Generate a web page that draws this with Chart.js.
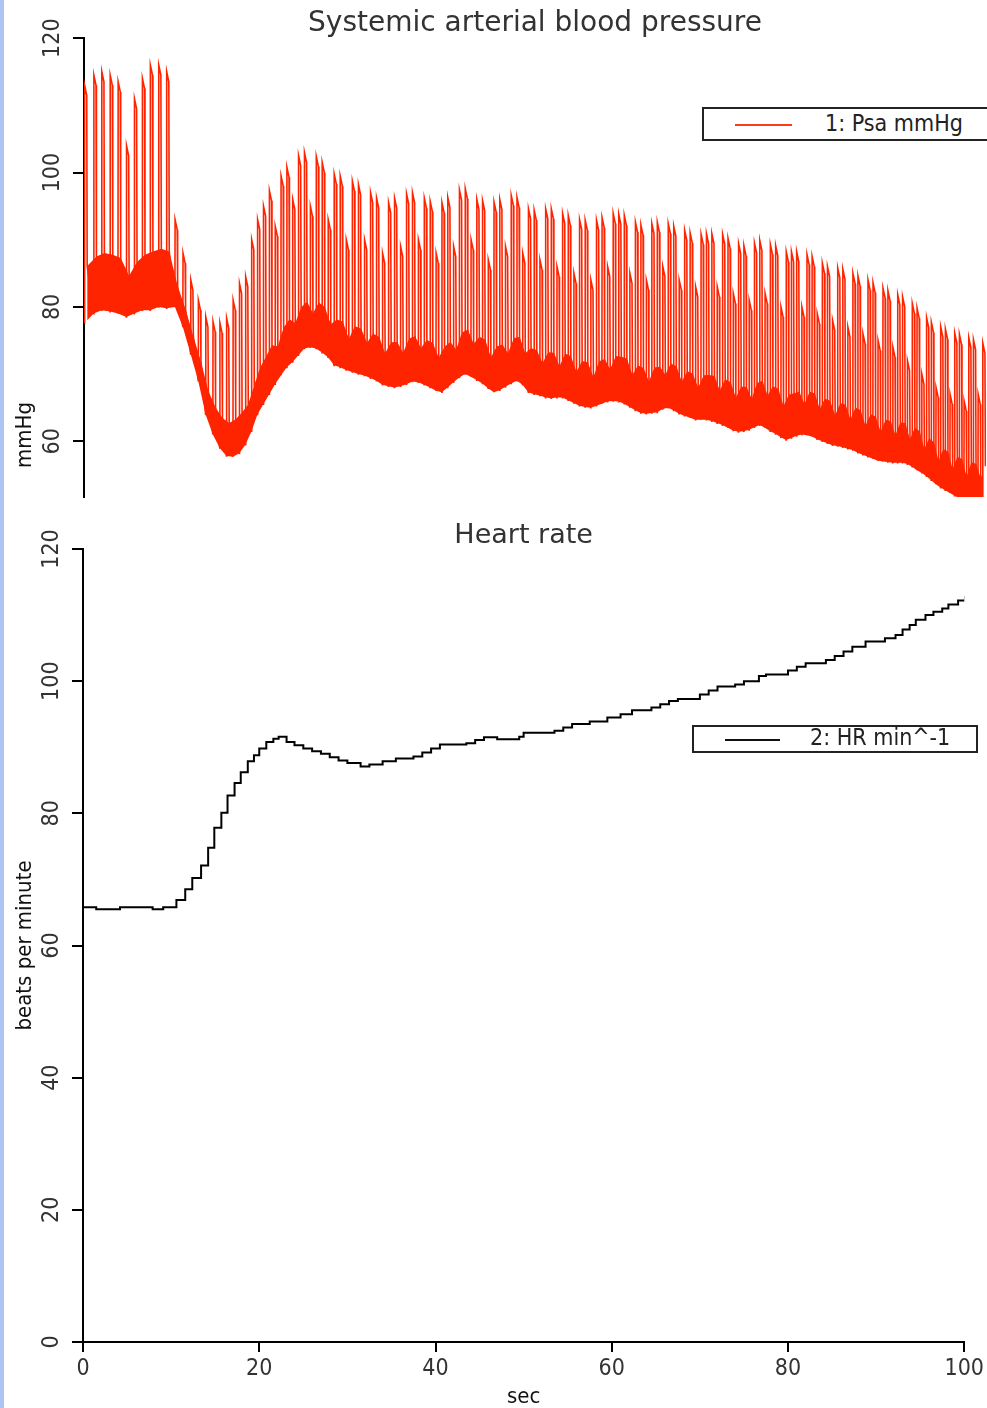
<!DOCTYPE html>
<html><head><meta charset="utf-8">
<script src="https://cdn.jsdelivr.net/npm/chart.js@4.4.1/dist/chart.umd.min.js"></script>
<style>
html,body{margin:0;padding:0;background:#fff;}
body{width:987px;height:1408px;position:relative;overflow:hidden;}
#strip{position:absolute;left:0;top:0;width:4px;height:1408px;background:#b0c4f4;z-index:5;}
#c1wrap{position:absolute;left:0;top:0;width:987px;height:498px;}
#c2wrap{position:absolute;left:0;top:500px;width:987px;height:908px;}
.legend{position:absolute;border:2px solid #222;background:#fff;box-sizing:border-box;font-family:'DejaVu Sans Condensed','DejaVu Sans',sans-serif;font-size:23px;color:#222;white-space:nowrap;}
.legend .sw{position:absolute;height:2px;}
.legend .tx{position:absolute;line-height:normal;}
</style></head>
<body>
<div id="strip"></div>
<div id="c1wrap"><canvas id="bp" width="987" height="498"></canvas></div>
<div id="c2wrap"><canvas id="hr" width="987" height="908"></canvas></div>
<div class="legend" id="lg1" style="left:702px;top:107px;width:300px;height:34px;"><span class="sw" style="left:31px;top:15px;width:57px;background:#ff3a1a"></span><span class="tx" style="left:121px;top:1px"></span></div>
<div class="legend" id="lg2" style="left:692px;top:725px;width:286px;height:28px;"><span class="sw" style="left:31px;top:12px;width:55px;background:#111"></span><span class="tx" style="left:116px;top:-3px"></span></div>
<script>
// ---------------- data ----------------
const bpTitle = 'Systemic arterial blood pressure';
const hrTitle = 'Heart rate';
const bpLabel = '1: Psa mmHg';
const hrLabel = '2: HR min^-1';
const bpAxisTitle = 'mmHg';
const hrAxisTitle = 'beats per minute';
const secAxisTitle = 'sec';
const bpTicks = [60, 80, 100, 120];
const hrTicks = [0, 20, 40, 60, 80, 100, 120];
const secTicks = [0, 20, 40, 60, 80, 100];

// beat onset times (s), systolic peaks and diastolic troughs (mmHg) per beat
const beatSec = [0.05, 1.1, 2.0, 2.95, 3.85, 4.8, 5.7, 6.6, 7.5, 8.45, 9.35, 10.3,
 11.2, 12.08, 12.94, 13.78, 14.6, 15.38,
 16.14, 16.88, 17.6, 18.3, 18.98, 19.65, 20.32,
 20.99, 21.65, 22.31, 22.97, 23.63, 24.29, 24.96, 25.63, 26.3, 26.97, 27.65, 28.33, 29.01, 29.7,
 30.39, 31.08, 31.77, 32.45, 33.13, 33.81, 34.49, 35.17, 35.85, 36.53, 37.2, 37.87, 38.54, 39.21, 39.88,
 40.54, 41.2, 41.86, 42.52, 43.18, 43.84, 44.49, 45.14, 45.79, 46.44, 47.09, 47.74, 48.39, 49.04, 49.69,
 50.34, 50.99, 51.64, 52.29, 52.93, 53.57, 54.21, 54.85, 55.49, 56.13, 56.77, 57.41, 58.05, 58.68, 59.31, 59.94,
 60.57, 61.2, 61.83, 62.46, 63.08, 63.7, 64.32, 64.94, 65.56, 66.18, 66.8, 67.42, 68.04, 68.66, 69.28, 69.9,
 70.51, 71.12, 71.73, 72.34, 72.95, 73.55, 74.15, 74.75, 75.35, 75.95, 76.55, 77.15, 77.75, 78.35, 78.95, 79.55,
 80.14, 80.73, 81.32, 81.9, 82.48, 83.06, 83.64, 84.22, 84.8, 85.38, 85.96, 86.53, 87.1, 87.67, 88.24, 88.81, 89.38, 89.95,
 90.51, 91.07, 91.63, 92.18, 92.73, 93.28, 93.83, 94.37, 94.91, 95.45, 95.99, 96.52, 97.05, 97.58, 98.11, 98.64, 99.17, 99.7,
 100.23, 100.76, 101.29, 101.82];
const systolic = [113, 114.5, 115, 114.5, 113.5, 104, 111, 114, 116, 116, 115, 93,
 88, 84, 81, 78.5, 77.8, 77.6,
 78.3, 81, 83.5, 84.5, 90, 93, 95,
 97.3, 92, 99.5, 100.8, 96, 102.5, 103, 95, 102.4, 101.5, 93, 99.8, 99.5, 90,
 98.7, 98.2, 90, 97, 96.2, 88, 95.5, 96.2, 89, 96.8, 97, 90, 96.2, 95.7, 88,
 95.5, 96.3, 89, 97.4, 97.6, 90, 96, 95.8, 87, 95.6, 96, 89, 96.6, 96.3, 88,
 94.6, 94.4, 87, 94.6, 94.6, 86, 93.9, 93.6, 85, 93, 92.9, 84, 92.9, 93.3, 86, 93.9,
 93.8, 93.6, 85, 92.6, 92.2, 84, 92.4, 92.6, 86, 92.4, 92, 84, 91.4, 91, 83, 90.8,
 90.9, 90.9, 83, 90.8, 90.2, 82, 89.4, 89.1, 81, 89.5, 89.9, 82, 89.3, 89.1, 80, 88.2,
 88.2, 88.2, 80, 87.8, 87.5, 79, 86.5, 86, 78, 85.8, 85.6, 77, 85, 84.6, 76, 84, 83.6, 75,
 82.8, 82.4, 74, 81.8, 81.5, 72, 80.5, 79.8, 70, 78.4, 77.7, 68, 77, 76.7, 67, 76.1, 75.9, 66,
 75.4, 75.1, 67, 74.6];
const diastolic = [77.6, 79, 79.5, 79.3, 79, 78.5, 79, 79.5, 79.5, 80, 79.8, 80,
 77, 73, 69, 64, 61, 59,
 57.8, 57.7, 58.2, 59.5, 61.5, 64, 65.5,
 67, 68.5, 69.8, 71, 71.8, 72.8, 73.8, 74, 73.8, 73.2, 72.5, 71.3, 71, 70.6,
 70.3, 70, 69.8, 69.4, 69, 68.4, 68.2, 68, 68.2, 68.5, 68.9, 68.8, 68.4, 68, 67.5,
 67.3, 68, 68.8, 69.5, 70, 69.6, 69.1, 68.6, 67.9, 67.3, 67.6, 68.1, 68.6, 69, 68.4,
 67.3, 67, 66.8, 66.5, 66.4, 66.5, 66.5, 66.1, 65.7, 65.3, 65.1, 65, 65.3, 65.6, 65.9, 66,
 65.9, 65.6, 65.1, 64.6, 64.2, 64.1, 64.2, 64.3, 64.8, 65, 64.6, 64.1, 63.8, 63.5, 63.2, 63.2,
 63.2, 63, 62.7, 62.4, 62, 61.6, 61.4, 61.5, 61.7, 62.1, 62.4, 62, 61.5, 61.1, 60.6, 60.2,
 60.5, 60.8, 61, 60.9, 60.7, 60.3, 60, 59.7, 59.4, 59.3, 59.1, 58.9, 58.7, 58.3, 58, 57.7, 57.4, 57.1,
 57, 56.9, 56.8, 56.8, 56.8, 56.6, 56.2, 55.7, 55.3, 54.8, 54.2, 53.6, 53.1, 52.7, 52.3, 51.9, 51.5, 51.2,
 51, 50.8, 50.6, 50.5];

// heart rate: step start times (s) and values (beats/min)
const hrSec = [0, 1.5, 4.2, 7.9, 9.1, 10.6, 11.6, 12.4, 13.4, 14.2, 14.9, 15.7, 16.4, 17.2, 17.9, 18.7, 19.4, 20.0, 20.8, 21.6,
 22.2, 23.1, 24.0, 25.0, 26.0, 27.0, 28.0, 29.0, 30.0, 31.5, 32.5, 34.0, 35.5, 37.5, 38.5, 39.5, 40.5, 43.5, 44.5, 45.5,
 47.0, 49.5, 50.0, 53.5, 54.5, 55.5, 57.5, 59.5, 61.0, 62.3, 64.5, 65.5, 66.5, 67.5, 70.0, 71.0, 72.0, 74.0, 75.0, 76.7,
 77.5, 80.0, 81.0, 82.0, 84.3, 85.3, 86.3, 87.3, 88.8, 91.0, 92.2, 93.0, 93.8, 94.5, 95.6, 96.5, 97.5, 98.2, 99.3, 100.1];
const hrBpm = [65.8, 65.5, 65.8, 65.5, 65.8, 66.9, 68.5, 70.2, 72.1, 74.8, 77.8, 80.1, 82.7, 84.6, 86.2, 87.9, 88.8, 89.8, 90.8, 91.3,
 91.6, 90.8, 90.3, 89.8, 89.4, 89.0, 88.5, 88.0, 87.6, 87.1, 87.4, 87.9, 88.3, 88.6, 89.2, 89.8, 90.4, 90.6, 91.1, 91.5,
 91.2, 91.6, 92.2, 92.5, 93.0, 93.5, 93.9, 94.5, 95.0, 95.6, 96.0, 96.5, 97.0, 97.3, 98.0, 98.6, 99.2, 99.5, 100.0, 100.8,
 101.0, 101.6, 102.2, 102.7, 103.2, 103.8, 104.5, 105.2, 106.0, 106.5, 107.0, 107.8, 108.5, 109.3, 110.0, 110.5, 111.0, 111.6, 112.2, 112.9];

// ---------------- styling ----------------
const RED = '#ff2400';
const TICK_FONT = {family: "'DejaVu Sans Condensed', 'DejaVu Sans', sans-serif", size: 23};
const AXT_FONT = {family: "'DejaVu Sans Condensed', 'DejaVu Sans', sans-serif", size: 22};
const TITLE_FONT = {family: "'DejaVu Sans', sans-serif", size: 27, lineHeight: 1, weight: 'normal'};
// beat shape (seconds after onset): rise, plateau end, notch
const RISE = 0.02, HOLD = 0.26, FALL = 0.31, NOTCH = 0.24;

// pulse waveform built from the per-beat arrays
const nBeats = Math.min(beatSec.length, systolic.length, diastolic.length);
const wave = [], bandTop = [], bandBottom = [];
for (let i = 0; i < nBeats; i++) {
  const t = beatSec[i], s = systolic[i], d = diastolic[i];
  const nv = d + NOTCH * (s - d);
  wave.push({x: t, y: d}, {x: t + RISE, y: s}, {x: t + HOLD, y: s - 1.5}, {x: t + FALL, y: nv});
  bandTop.push({x: t + FALL, y: nv});
  bandBottom.push({x: t, y: d});
}
const hrPoints = hrSec.map((t, i) => ({x: t, y: hrBpm[i]}));

document.querySelector('#lg1 .tx').textContent = bpLabel;
document.querySelector('#lg2 .tx').textContent = hrLabel;

const axisGrid = (len) => ({display: true, drawOnChartArea: false, drawTicks: true, tickLength: len, color: '#000', lineWidth: 2});
const axisBorder = {display: true, color: '#000', width: 2};

const sideTitle = {
  id: 'sideTitle',
  afterDraw(chart, args, o) {
    if (!o || !o.text) return;
    const {ctx, chartArea} = chart;
    ctx.save();
    ctx.font = `${o.size}px ${o.family}`;
    ctx.fillStyle = o.color;
    ctx.translate(o.x, chartArea.bottom - o.fromBottom);
    ctx.rotate(-Math.PI / 2);
    ctx.textAlign = 'center';
    ctx.textBaseline = 'middle';
    ctx.fillText(o.text, 0, 0);
    ctx.restore();
  }
};

new Chart(document.getElementById('bp'), {
  type: 'line',
  data: {datasets: [
    {label: bpLabel, data: wave, borderColor: RED, borderWidth: 1.6, pointRadius: 0, fill: false, tension: 0},
    {label: 'band', data: bandTop, borderWidth: 0, borderColor: RED, backgroundColor: RED, pointRadius: 0, fill: '+1', tension: 0},
    {label: 'band2', data: bandBottom, borderWidth: 0, borderColor: RED, pointRadius: 0, fill: false, tension: 0}
  ]},
  options: {
    responsive: false, animation: false, events: [], parsing: false, normalized: true,
    layout: {padding: {top: 0, right: 1, bottom: 1, left: 0}},
    plugins: {
      legend: {display: false}, tooltip: {enabled: false},
      title: {display: true, text: bpTitle, fullSize: false, font: {...TITLE_FONT, size: 28}, color: '#333', padding: {top: 10.2, bottom: 0}},
      sideTitle: {text: bpAxisTitle, x: 25, fromBottom: 62, size: 22, family: "'DejaVu Sans Condensed', 'DejaVu Sans', sans-serif", color: '#111'}
    },
    scales: {
      x: {type: 'linear', min: 0, max: 102.2, display: false},
      y: {type: 'linear', min: 51.7, max: 120,
        afterFit(s) { s.width = 84; s.paddingBottom = 0; s.paddingTop = 0; },
        afterBuildTicks(s) { s.ticks = bpTicks.map(v => ({value: v})); },
        grid: axisGrid(11), border: axisBorder,
        ticks: {minRotation: 90, maxRotation: 90, crossAlign: 'center', padding: 0, font: TICK_FONT, color: '#333'}
      }
    }
  },
  plugins: [sideTitle]
});

new Chart(document.getElementById('hr'), {
  type: 'line',
  data: {datasets: [
    {label: hrLabel, data: hrPoints, borderColor: '#000', borderWidth: 2, pointRadius: 0, stepped: true, fill: false}
  ]},
  options: {
    responsive: false, animation: false, events: [], parsing: false,
    layout: {padding: {top: 0, right: 21, bottom: 0, left: 0}},
    plugins: {
      legend: {display: false}, tooltip: {enabled: false},
      title: {display: true, text: hrTitle, fullSize: false, font: TITLE_FONT, color: '#333', padding: {top: 22, bottom: 0}}
    },
    scales: {
      x: {type: 'linear', min: 0, max: 100,
        afterFit(s) { s.height = 66; },
        afterBuildTicks(s) { s.ticks = secTicks.map(v => ({value: v})); },
        grid: axisGrid(10), border: axisBorder,
        ticks: {maxRotation: 0, padding: 3, font: TICK_FONT, color: '#333'},
        title: {display: true, text: secAxisTitle, font: {...AXT_FONT, lineHeight: 1}, color: '#111', padding: {top: 0, bottom: 0}}
      },
      y: {type: 'linear', min: 0, max: 120,
        afterFit(s) { s.width = 83; },
        afterBuildTicks(s) { s.ticks = hrTicks.map(v => ({value: v})); },
        grid: axisGrid(11), border: axisBorder,
        ticks: {minRotation: 90, maxRotation: 90, crossAlign: 'center', padding: 0, font: TICK_FONT, color: '#333'},
        title: {display: true, text: hrAxisTitle, font: {...AXT_FONT, lineHeight: 1.2}, color: '#111', padding: {top: 12, bottom: 0}}
      }
    }
  }
});
</script>
</body></html>
